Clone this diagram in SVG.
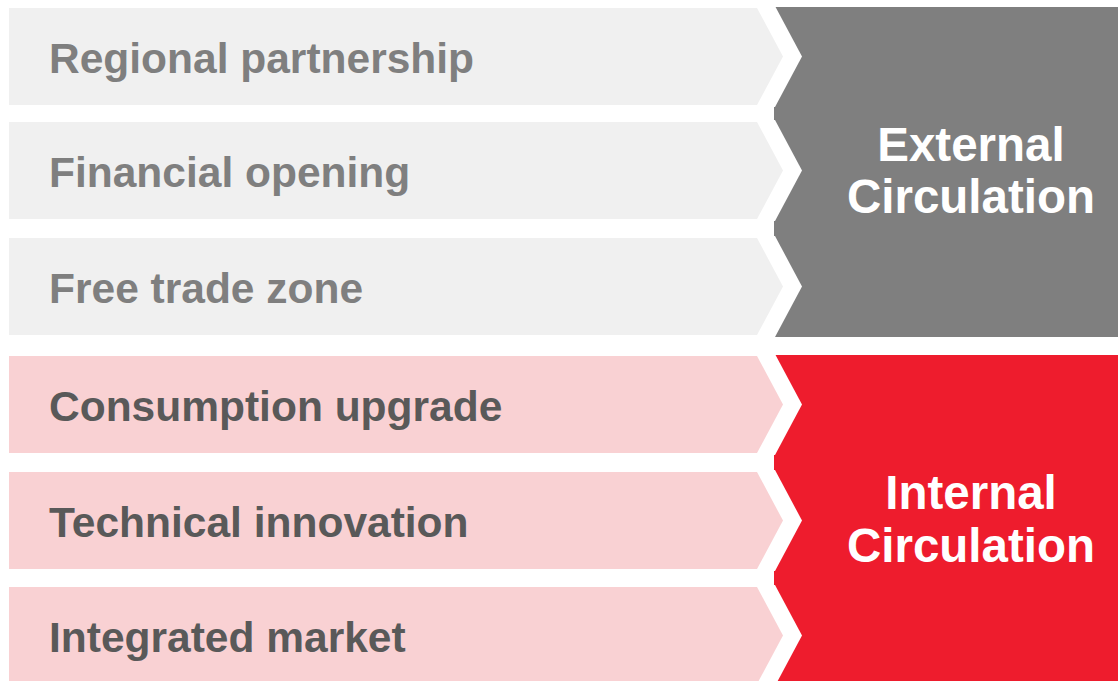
<svg xmlns="http://www.w3.org/2000/svg" width="1118" height="681" viewBox="0 0 1118 681">
<style>
.lab{font-family:"Liberation Sans",Arial,sans-serif;font-weight:bold;font-size:42.5px}
.ext{fill:#7f7f7f}
.int{fill:#595959}
.big{font-family:"Liberation Sans",Arial,sans-serif;font-weight:bold;font-size:47.5px;fill:#ffffff;text-anchor:middle}
.cut{fill:#ffffff}
.lg{fill:#f0f0f0}
.pk{fill:#f9d1d3}
</style>
<rect width="1118" height="681" fill="#ffffff"/>
<g id="external-block">
<rect x="774" y="7" width="344" height="330" fill="#7f7f7f"/>
<text class="big" x="971" y="161">External</text>
<text class="big" x="971" y="213">Circulation</text>
</g>
<g id="internal-block">
<rect x="774" y="355" width="344" height="326" fill="#ee1c2d"/>
<text class="big" x="971" y="509">Internal</text>
<text class="big" x="971" y="562">Circulation</text>
</g>
<g id="row1">
<polygon class="cut" points="740,6 775,6 802,56.5 775,107 740,107"/>
<polygon class="lg" points="9,8 757,8 783,56.5 757,105 9,105"/>
<text class="lab ext" x="49" y="73">Regional partnership</text>
</g>
<g id="row2">
<polygon class="cut" points="740,120 775,120 802,170.5 775,221 740,221"/>
<polygon class="lg" points="9,122 757,122 783,170.5 757,219 9,219"/>
<text class="lab ext" x="49" y="187">Financial opening</text>
</g>
<g id="row3">
<polygon class="cut" points="740,236 775,236 802,286.5 775,337 740,337"/>
<polygon class="lg" points="9,238 757,238 783,286.5 757,335 9,335"/>
<text class="lab ext" x="49" y="303">Free trade zone</text>
</g>
<g id="row4">
<polygon class="cut" points="740,354 775,354 802,404.5 775,455 740,455"/>
<polygon class="pk" points="9,356 757,356 783,404.5 757,453 9,453"/>
<text class="lab int" x="49" y="421">Consumption upgrade</text>
</g>
<g id="row5">
<polygon class="cut" points="740,470 775,470 802,520.5 775,571 740,571"/>
<polygon class="pk" points="9,472 757,472 783,520.5 757,569 9,569"/>
<text class="lab int" x="49" y="537">Technical innovation</text>
</g>
<g id="row6">
<polygon class="cut" points="740,585 775,585 802,635.5 775,686 740,686"/>
<polygon class="pk" points="9,587 757,587 783,635.5 757,684 9,684"/>
<text class="lab int" x="49" y="652">Integrated market</text>
</g>
</svg>
